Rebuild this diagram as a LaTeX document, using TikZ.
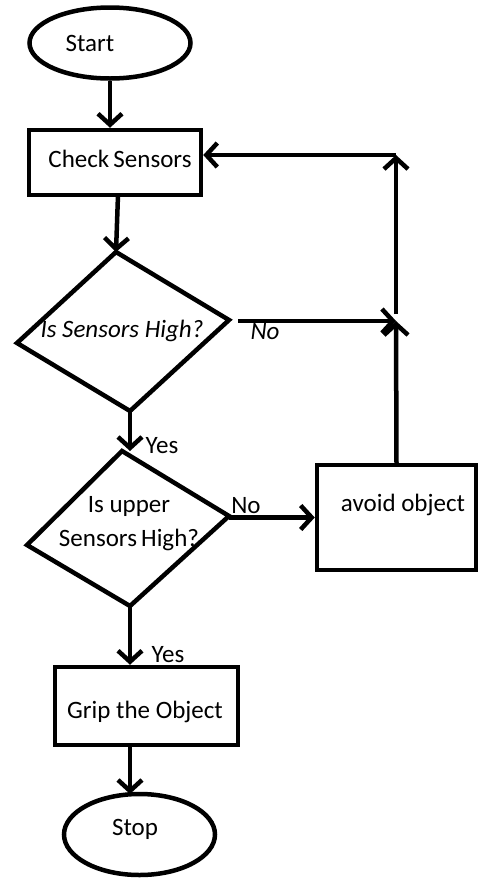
\documentclass[tikz,border=0pt]{standalone}
\usepackage{fontspec}
\setmainfont{Carlito}
\usetikzlibrary{shapes.geometric,arrows.meta}
\begin{document}
\begin{tikzpicture}[x=1pt,y=-1pt,
  every node/.style={font=\fontsize{25}{30}\selectfont, text=black},
  term/.style={draw, ellipse, line width=4.5pt, minimum width=#1, inner sep=0pt},
  box/.style={draw, rectangle, line width=4.5pt, inner sep=0pt},
  shape line/.style={line width=4.5pt, line join=miter},
  conn/.style={line width=4.5pt, -{Straight Barb[length=11pt,width=24pt]}},
  lbl/.style={inner sep=0pt}
]
\fill[white] (0,0) rectangle (480,879);
\useasboundingbox (0,0) rectangle (480,879);

% Start
\node[term=161pt, minimum height=71pt] (start) at (110,43) {};
\node[lbl] (starttxt) at (90,43) {Start};

% Check Sensors
\node[box, minimum width=172pt, minimum height=65pt] (check) at (115,162.5) {};
\node[lbl] (checktxt) at (120,159) {Check\,Sensors};

% Diamond 1
\coordinate (d1t) at (116,252);
\coordinate (d1r) at (229,320);
\coordinate (d1b) at (130,411);
\coordinate (d1l) at (17,343);
\draw[shape line] (d1t) -- (d1r) -- (d1b) -- (d1l) -- cycle;
\node[lbl] (d1txt) at (122,331) {\itshape Is Sensors High?};

% Diamond 2
\coordinate (d2t) at (122,451);
\coordinate (d2r) at (229,516);
\coordinate (d2b) at (130,606);
\coordinate (d2l) at (27,545);
\draw[shape line] (d2t) -- (d2r) -- (d2b) -- (d2l) -- cycle;
\node[lbl] (d2txt1) at (129,506) {Is upper};
\node[lbl] (d2txt2) at (129,540) {Sensors\,High?};

% avoid object
\node[box, minimum width=159pt, minimum height=105pt] (avoid) at (396.5,517.5) {};
\node[lbl] (avoidtxt) at (403,505) {avoid object};

% Grip
\node[box, minimum width=183pt, minimum height=78pt] (grip) at (146.5,706) {};
\node[lbl] (griptxt) at (145,712) {Grip the Object};

% Stop
\node[term=151pt, minimum height=81pt] (stop) at (139.5,834.5) {};
\node[lbl] (stoptxt) at (135,829) {Stop};

% labels
\node[lbl] (no1) at (265,332) {\itshape No};
\node[lbl] (yes1) at (162,446) {Yes};
\node[lbl] (no2) at (246,506) {No};
\node[lbl] (yes2) at (168,655) {Yes};

% connectors
\coordinate (nostart) at (238,321);
\coordinate (j1) at (396,321);
\coordinate (j1top) at (396,314);
\coordinate (j2) at (396,155);
\coordinate (gs) at (130,745);
\coordinate (sn) at (130,794);

\draw[conn] (start.south) -- (start.south |- check.north);
\draw[conn] (118,195) -- (d1t);
\draw[conn] (nostart) -- (j1);
\draw[conn] (avoid.north) -- (j1);
\draw[conn] (j1top) -- (j2);
\draw[conn] (j2) -- (j2 -| check.east);
\draw[conn] (d1b) -- (d1b |- d2t);
\draw[conn] (d2r |- avoid.west) -- (avoid.west);
\draw[conn] (d2b) -- (d2b |- grip.north);
\draw[conn] (gs) -- (sn);
\end{tikzpicture}
\end{document}
